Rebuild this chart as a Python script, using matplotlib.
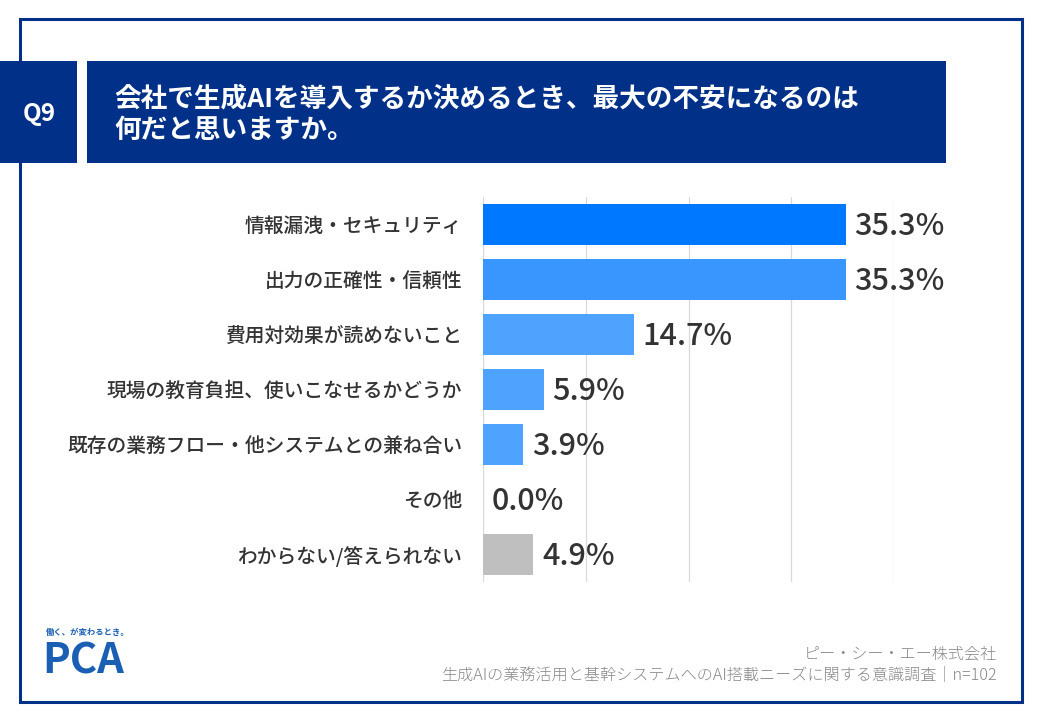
import matplotlib
matplotlib.use("Agg")
import matplotlib.pyplot as plt
import matplotlib.patches as pltp

plt.rcParams['font.family'] = ['Noto Sans CJK JP', 'DejaVu Sans']

W, H = 1040, 720
NAVY = "#003087"

categories = [
    "情報漏洩・セキュリティ",
    "出力の正確性・信頼性",
    "費用対効果が読めないこと",
    "現場の教育負担、使いこなせるかどうか",
    "既存の業務フロー・他システムとの兼ね合い",
    "その他",
    "わからない/答えられない",
]
values = [35.3, 35.3, 14.7, 5.9, 3.9, 0.0, 4.9]
bar_colors = ["#0078FF", "#3A96FF", "#4DA3FF", "#4DA3FF", "#4DA3FF", "#4DA3FF", "#BFBFBF"]
x_ticks = [0, 10, 20, 30, 40]

title_lines = ["会社で生成AIを導入するか決めるとき、最大の不安になるのは", "何だと思いますか。"]
q_label = "Q9"
footer_company = "ピー・シー・エー株式会社"
footer_survey = "生成AIの業務活用と基幹システムへのAI搭載ニーズに関する意識調査｜n=102"


def px(x, y):
    # pixel coords (top-left origin) -> figure fraction
    return x / W, 1 - y / H


def rect_px(fig, x0, y0, x1, y1, **kw):
    fig.patches.append(pltp.Rectangle((x0 / W, 1 - y1 / H), (x1 - x0) / W, (y1 - y0) / H,
                                      transform=fig.transFigure, figure=fig, **kw))


fig = plt.figure(figsize=(W / 100, H / 100), dpi=100)
fig.patch.set_facecolor("white")

# outer frame
rect_px(fig, 20, 19, 1022, 702, fill=False, edgecolor=NAVY, lw=2.2)

# header boxes
rect_px(fig, 0, 61, 77, 163, facecolor=NAVY, edgecolor="none")
rect_px(fig, 87, 61, 946, 163, facecolor=NAVY, edgecolor="none")
fig.text(*px(39, 114), q_label, color="white", fontsize=17.5, fontweight="bold",
         ha="center", va="center")
fig.text(*px(114, 99), title_lines[0], color="white", fontsize=19.2, fontweight="bold",
         ha="left", va="center")
fig.text(*px(114, 130), title_lines[1], color="white", fontsize=19.2, fontweight="bold",
         ha="left", va="center")

# chart
left, right = 483, 894
top, bottom = 197, 582
ax = fig.add_axes([left / W, 1 - bottom / H, (right - left) / W, (bottom - top) / H])
ypos = list(range(len(categories)))
ax.barh(ypos, values, height=0.745, color=bar_colors, zorder=2)
ax.set_xlim(0, 40)
ax.set_ylim(len(categories) - 0.5, -0.5)
ax.set_xticks(x_ticks)
ax.grid(axis="x", color="#D9D9D9", lw=0.9, zorder=0)
ax.tick_params(length=0, labelbottom=False)
ax.set_yticks(ypos)
ax.set_yticklabels(categories, fontsize=14.2, color="#333333", fontweight="medium")
ax.tick_params(axis="y", pad=15)
for s in ax.spines.values():
    s.set_visible(False)

for i, v in enumerate(values):
    ax.text(v + 0.85, i + 0.04, f"{v:.1f}%", fontsize=22, color="#333333",
            fontweight="medium", ha="left", va="center", clip_on=False)

# logo
fig.text(*px(46, 632), "働く、が変わるとき。", color="#1a5fb4", fontsize=6,
         fontweight="bold", ha="left", va="center")
fig.text(*px(42, 661), "PCA", color="#1a5fb4", fontsize=30, fontweight="bold",
         ha="left", va="center")

# footer
fig.text(*px(997, 654), footer_company, color="#888888", fontsize=11.6,
         fontweight="light", ha="right", va="center")
fig.text(*px(997, 675), footer_survey, color="#888888", fontsize=11.6,
         fontweight="light", ha="right", va="center")

fig.savefig("out.png", dpi=100)
